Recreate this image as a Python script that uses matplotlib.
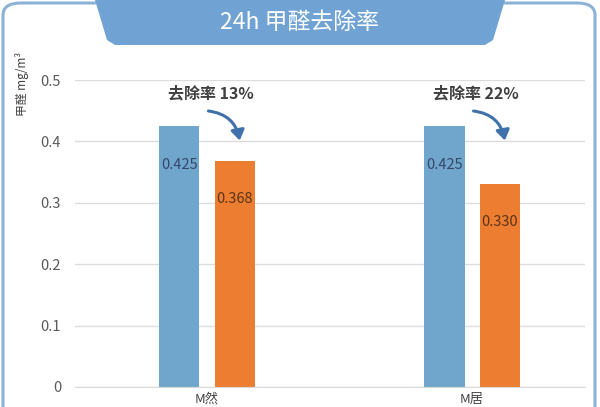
import matplotlib
matplotlib.use("Agg")
import matplotlib.pyplot as plt
from matplotlib.patches import FancyBboxPatch, Polygon, FancyArrowPatch
import numpy as np

plt.rcParams['font.family'] = ['Noto Sans CJK SC', 'DejaVu Sans']

categories = ["M然", "M居"]
before = [0.425, 0.425]
after = [0.368, 0.330]
rates = ["去除率 13%", "去除率 22%"]
yticks = [0, 0.1, 0.2, 0.3, 0.4, 0.5]
ytick_labels = ["0", "0.1", "0.2", "0.3", "0.4", "0.5"]

W, H = 600, 407
fig = plt.figure(figsize=(W/100, H/100), dpi=100)
fig.patch.set_facecolor("white")

def fx(px):
    return px / W
def fy(py):
    return 1 - py / H

# outer rounded border
border = FancyBboxPatch((fx(3), fy(440)), fx(592), (440-3)/H,
                        boxstyle="round,pad=0,rounding_size=0.03",
                        transform=fig.transFigure, facecolor="none",
                        edgecolor="#8db2d8", linewidth=2.2, zorder=0)
fig.patches.append(border)

# title tab
tab = Polygon([(fx(95), fy(0)), (fx(505), fy(0)), (fx(493), fy(40)),
               (fx(485), fy(45)), (fx(115), fy(45)), (fx(107), fy(40))],
              closed=True, transform=fig.transFigure,
              facecolor="#70a3d3", edgecolor="none", zorder=1)
fig.patches.append(tab)
fig.text(fx(300), fy(22), "24h 甲醛去除率", color="white", fontsize=16.5,
         ha="center", va="center", zorder=5)

ax = fig.add_axes([fx(75), 1 - 387/H, (585-75)/W, (387-80)/H])
ax.set_facecolor("none")
ax.set_zorder(3)
x = np.arange(len(categories))
bw = 0.151
off = 0.104
b1 = ax.bar(x - off, before, bw, color="#71a6cc", zorder=2)
b2 = ax.bar(x + off, after, bw, color="#ec7d31", zorder=2)
ax.set_ylim(0, 0.5)
ax.set_xlim(-0.498, 1.426)
ax.set_yticks(yticks)
ax.set_yticklabels(ytick_labels)
ax.yaxis.grid(True, color="#dcdcdc", linewidth=1, zorder=0)
ax.set_axisbelow(True)
for s in ["top", "right", "left"]:
    ax.spines[s].set_visible(False)
ax.spines["bottom"].set_color("#d9d9d9")
ax.tick_params(axis="y", length=0, pad=10, labelsize=10.5, labelcolor="#595959")
ax.tick_params(axis="x", length=0, pad=4, labelsize=9.5, labelcolor="#404040")
ax.set_xticks(x)
ax.set_xticklabels(categories)

for i in range(len(categories)):
    ax.text(x[i] - off, before[i] - 0.063, f"{before[i]:.3f}", ha="center",
            va="center", fontsize=10.5, color="#33476a", zorder=3)
    ax.text(x[i] + off, after[i] - 0.062, f"{after[i]:.3f}", ha="center",
            va="center", fontsize=10.5, color="#5b3418", zorder=3)
    ax.text(x[i] + 0.015, 0.478, rates[i], ha="center", va="center",
            fontsize=11.5, fontweight="bold", color="#404040")
    arr = FancyArrowPatch((x[i] - 0.005, 0.45), (x[i] + 0.125, 0.397),
                          connectionstyle="arc3,rad=-0.4",
                          arrowstyle="-|>,head_length=6,head_width=4",
                          color="#3f71aa", linewidth=2.2, zorder=3)
    ax.add_patch(arr)

fig.text(fx(22), fy(84), "甲醛 mg/m³", rotation=90, fontsize=8.5,
         color="#404040", ha="center", va="center")

fig.savefig("out.png", dpi=100)
